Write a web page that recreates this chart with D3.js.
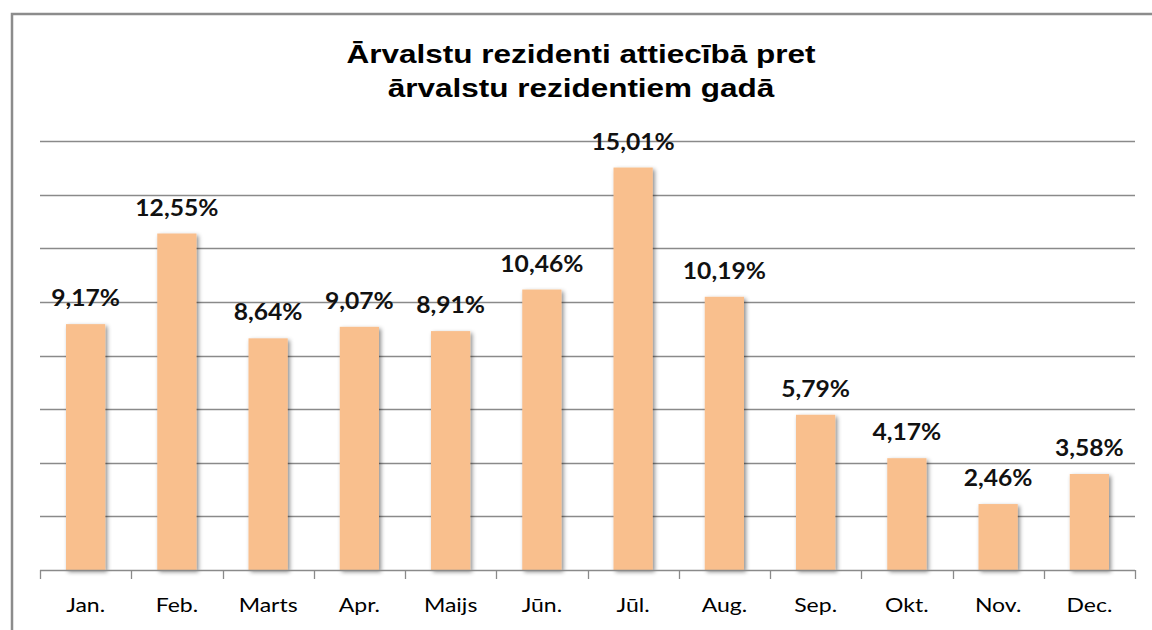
<!DOCTYPE html>
<html><head><meta charset="utf-8">
<script src="https://cdn.jsdelivr.net/npm/d3@7"></script>
<style>body{margin:0;background:#fff;}svg{display:block;}</style>
</head><body>
<svg id="c" width="1152" height="630"></svg>
<script>
const categories = ["Jan.","Feb.","Marts","Apr.","Maijs","Jūn.","Jūl.","Aug.","Sep.","Okt.","Nov.","Dec."];
const values = [9.17,12.55,8.64,9.07,8.91,10.46,15.01,10.19,5.79,4.17,2.46,3.58];
const labels = ["9,17%","12,55%","8,64%","9,07%","8,91%","10,46%","15,01%","10,19%","5,79%","4,17%","2,46%","3,58%"];
const gridTicks = [0,2,4,6,8,10,12,14,16];
const titleLines = ["Ārvalstu rezidenti attiecībā pret","ārvalstu rezidentiem gadā"];

const svg = d3.select("#c");
const defs = svg.append("defs");
const f = defs.append("filter").attr("id","sh").attr("x","-30%").attr("y","-10%").attr("width","160%").attr("height","130%");
f.append("feDropShadow").attr("dx",2).attr("dy",2).attr("stdDeviation",2).attr("flood-color","#000").attr("flood-opacity",0.45);

// border
svg.append("path").attr("d","M12,630 V14 H1152").attr("fill","none").attr("stroke","#8c8c8c").attr("stroke-width",2.5);

const x = d3.scaleBand().domain(categories).range([40,1135]).paddingInner(0.57).paddingOuter(0.285);
const y = d3.scaleLinear().domain([0,16]).range([570,141]);

svg.append("g").selectAll("line").data(gridTicks.filter(d=>d>0)).join("line")
  .attr("x1",40).attr("x2",1135).attr("y1",d=>Math.round(y(d))+0.5).attr("y2",d=>Math.round(y(d))+0.5)
  .attr("stroke","#8a8a8a").attr("stroke-width",1.3);

svg.append("g").selectAll("rect").data(values).join("rect")
  .attr("x",(d,i)=>x(categories[i])).attr("width",x.bandwidth())
  .attr("y",d=>y(d)).attr("height",d=>y(0)-y(d))
  .attr("fill","#f9bf8d").attr("filter","url(#sh)");

// x axis
const axG = svg.append("g").attr("transform","translate(0,570)");
axG.append("line").attr("x1",40).attr("x2",1135).attr("y1",0.5).attr("y2",0.5).attr("stroke","#8a8a8a").attr("stroke-width",1.3);
const bounds = d3.range(categories.length+1).map(i=>40+i*(1095/categories.length));
axG.selectAll("line.t").data(bounds).join("line").attr("class","t")
  .attr("x1",d=>Math.round(d)+0.5).attr("x2",d=>Math.round(d)+0.5).attr("y1",0).attr("y2",9)
  .attr("stroke","#8a8a8a").attr("stroke-width",1.3);
axG.selectAll("text").data(categories).join("text")
  .attr("transform",d=>`translate(${x(d)+x.bandwidth()/2},42) scale(1.15,1)`)
  .attr("text-anchor","middle").attr("font-family","Lato, 'Open Sans', sans-serif").attr("font-size",20)
  .attr("fill","#000").text(d=>d);

// data labels
svg.append("g").selectAll("text").data(values).join("text")
  .attr("transform",(d,i)=>`translate(${x(categories[i])+x.bandwidth()/2},${y(d)-18}) scale(1.12,1)`)
  .attr("text-anchor","middle").attr("font-family","Lato, 'Open Sans', sans-serif").attr("font-weight","bold").attr("font-size",22)
  .attr("fill","#111").text((d,i)=>labels[i]);

// title
svg.append("g").selectAll("text").data(titleLines).join("text")
  .attr("transform",(d,i)=>`translate(581,${63+i*34}) scale(1.26,1)`)
  .attr("text-anchor","middle").attr("font-family","'Liberation Sans', Arial, sans-serif").attr("font-weight","bold").attr("font-size",25)
  .attr("fill","#000").text(d=>d);
</script>
</body></html>
